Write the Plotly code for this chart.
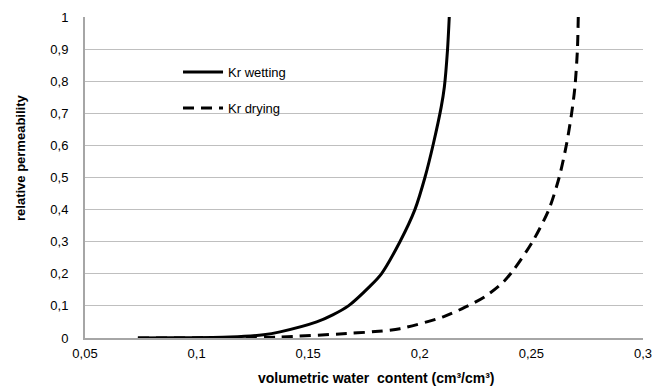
import plotly.graph_objects as go

# Data
wet_x = [0.0737, 0.09, 0.1150, 0.13, 0.1374, 0.1538, 0.1610, 0.1680, 0.1775, 0.1828,
         0.1911, 0.1978, 0.2023, 0.2061, 0.2096, 0.2110, 0.2124, 0.2132]
wet_y = [0.0, 0.0005, 0.003, 0.010, 0.019, 0.050, 0.072, 0.100, 0.160, 0.200,
         0.300, 0.400, 0.500, 0.606, 0.720, 0.782, 0.896, 1.0]

dry_x = [0.0737, 0.12, 0.137, 0.1672, 0.18, 0.1911, 0.2105, 0.2203, 0.2292, 0.2375,
         0.2420, 0.2505, 0.2578, 0.2625, 0.2658, 0.2680, 0.2695, 0.2706, 0.2710]
dry_y = [0.0, 0.001, 0.003, 0.014, 0.020, 0.029, 0.066, 0.096, 0.129, 0.175,
         0.212, 0.300, 0.400, 0.502, 0.606, 0.699, 0.782, 0.896, 1.0]

x_tickvals = [0.05, 0.1, 0.15, 0.2, 0.25, 0.3]
x_ticktext = ["0,05", "0,1", "0,15", "0,2", "0,25", "0,3"]
y_tickvals = [0, 0.1, 0.2, 0.3, 0.4, 0.5, 0.6, 0.7, 0.8, 0.9, 1]
y_ticktext = ["0", "0,1", "0,2", "0,3", "0,4", "0,5", "0,6", "0,7", "0,8", "0,9", "1"]

x_title = "volumetric water  content (cm³/cm³)"
y_title = "relative permeability"

FONT = "Liberation Sans, Arial, sans-serif"
W, H = 654, 387
ML, MR, MT, MB = 85, 11, 17, 49
PW, PH = W - ML - MR, H - MT - MB

fig = go.Figure()
fig.add_trace(go.Scatter(x=wet_x, y=wet_y, mode="lines", name="Kr wetting",
                         line=dict(color="black", width=3, shape="spline", smoothing=0.8),
                         legendgroup="a"))
fig.add_trace(go.Scatter(x=dry_x, y=dry_y, mode="lines", name="Kr drying",
                         line=dict(color="black", width=3, dash="11px,7px", shape="spline", smoothing=0.8),
                         legendgroup="b"))

# white backdrop of the legend box (covers gridlines like the reference)
fig.add_shape(type="rect", xref="paper", yref="paper", x0=0.1254, x1=0.4176, y0=0.66, y1=0.875,
              fillcolor="white", line=dict(width=0), layer="between")

# axis titles placed as in the reference
fig.add_annotation(text="<b>" + x_title + "</b>", xref="paper", yref="paper",
                   x=(376 - ML) / PW, y=-(378 - MT - PH) / PH, xanchor="center", yanchor="middle",
                   showarrow=False, font=dict(size=14, family=FONT, color="black"))
fig.add_annotation(text="<b>" + y_title + "</b>", xref="paper", yref="paper",
                   x=(20 - ML) / PW, y=(MT + PH - 158) / PH, xanchor="center", yanchor="middle",
                   textangle=-90, showarrow=False, font=dict(size=13, family=FONT, color="black"))

fig.update_layout(
    template="none",
    width=W, height=H,
    margin=dict(l=ML, r=MR, t=MT, b=MB, pad=0),
    paper_bgcolor="white", plot_bgcolor="white",
    font=dict(family=FONT, size=13, color="black"),
    showlegend=True,
    legend=dict(x=0.1667, y=0.875, xanchor="left", yanchor="top",
                bgcolor="rgba(255,255,255,0)", borderwidth=0, font=dict(size=13),
                tracegroupgap=16, itemwidth=40),
    xaxis=dict(range=[0.05, 0.3], tickvals=x_tickvals, ticktext=x_ticktext,
               automargin=False,
               showgrid=False, zeroline=False, showline=True, linecolor="#A6A6A6",
               linewidth=2, ticks="", ticklabelstandoff=2),
    yaxis=dict(range=[0, 1], tickvals=y_tickvals, ticktext=y_ticktext,
               automargin=False,
               showgrid=True, gridcolor="#BFBFBF", gridwidth=1,
               zeroline=False, showline=True, linecolor="#A6A6A6", linewidth=2,
               ticks="", ticklabelstandoff=12),
)

fig.write_html("out.html", post_script="document.body.style.margin='0px';",
               config={"displayModeBar": False})
